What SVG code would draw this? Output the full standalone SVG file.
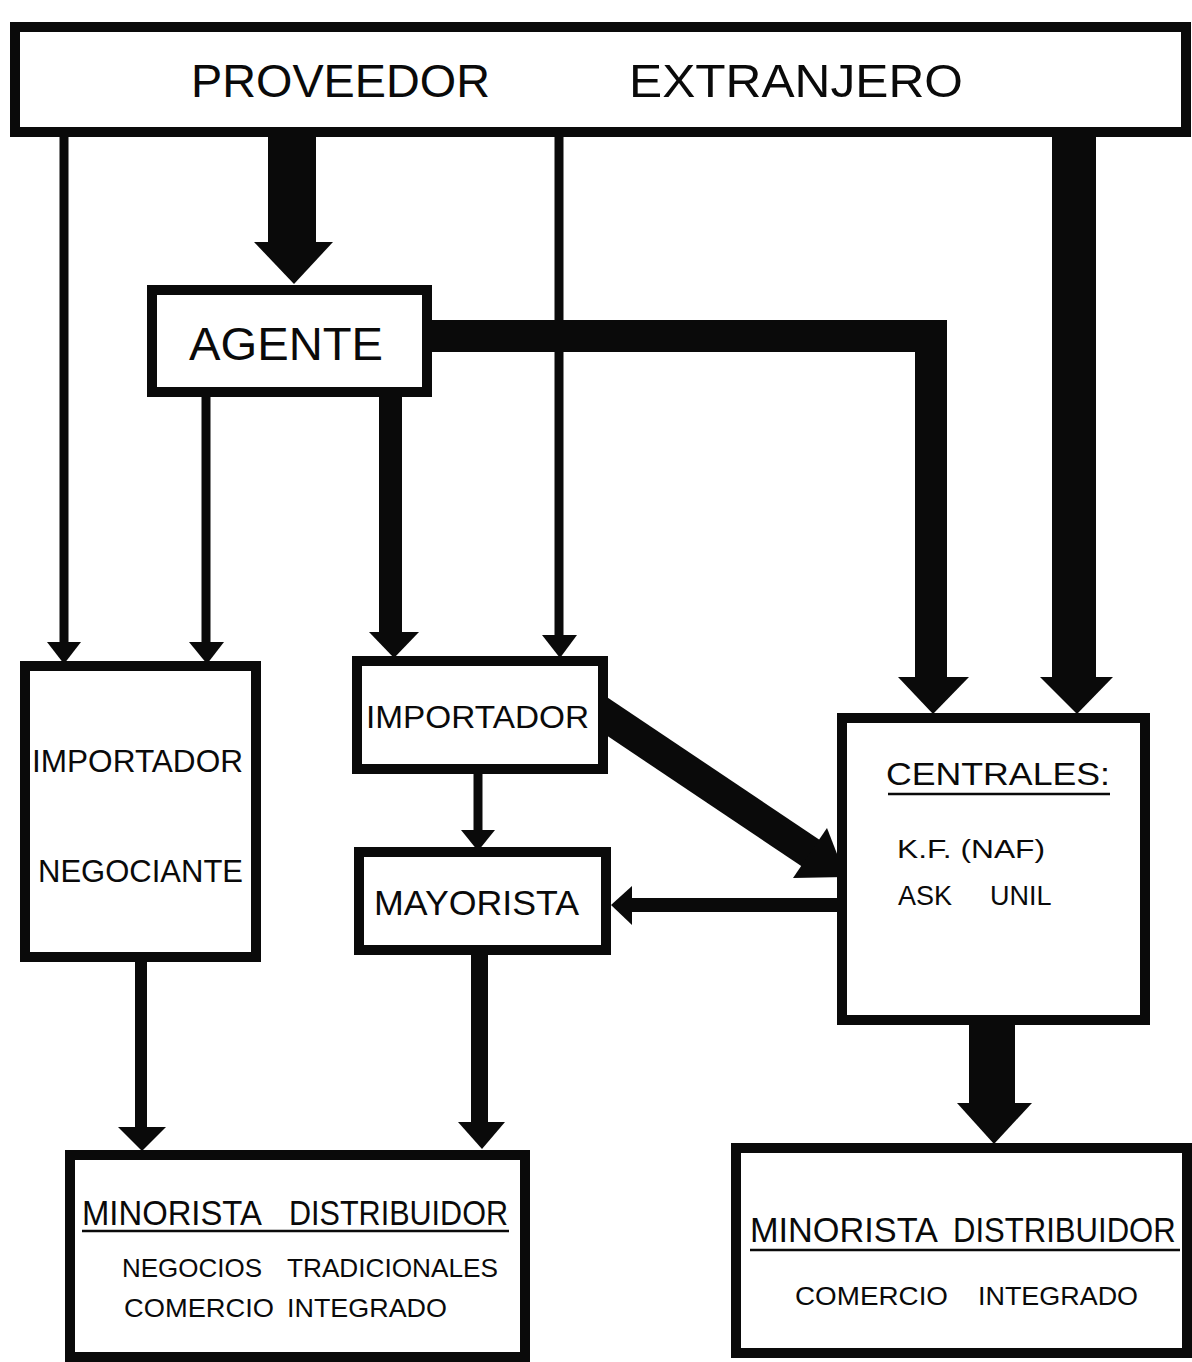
<svg xmlns="http://www.w3.org/2000/svg" width="1192" height="1362" viewBox="0 0 1192 1362">
  <style>
    .box { fill: #fff; stroke: #0a0a0a; stroke-width: 10; }
    .ink { fill: #0a0a0a; }
    .thin { stroke: #0a0a0a; stroke-width: 9; fill: none; }
    .lbl { font-family: "Liberation Sans", Arial, sans-serif; fill: #0a0a0a; }
    .ul { stroke: #0a0a0a; stroke-width: 2.5; }
  </style>
  <rect width="1192" height="1362" fill="#fff"/>

  <!-- flows between the trade channels -->
  <g id="connectors">
    <!-- proveedor -> agente (heavy) -->
    <rect class="ink" x="268" y="132" width="48" height="112"/>
    <polygon class="ink" points="254,242 333,242 294,284"/>
    <!-- proveedor -> importador negociante -->
    <line class="thin" x1="64" y1="132" x2="64" y2="645"/>
    <polygon class="ink" points="47,642 81,642 64,664"/>
    <!-- agente -> importador negociante -->
    <line class="thin" x1="206" y1="392" x2="206" y2="645"/>
    <polygon class="ink" points="189,642 224,642 207,664"/>
    <!-- agente -> importador -->
    <rect class="ink" x="379" y="392" width="23" height="243"/>
    <polygon class="ink" points="369,632 419,632 394,658"/>
    <!-- proveedor -> importador -->
    <line class="thin" x1="559" y1="132" x2="559" y2="638"/>
    <polygon class="ink" points="542,635 577,635 560,658"/>
    <!-- agente -> centrales (elbow) -->
    <polygon class="ink" points="427,320 947,320 947,680 915,680 915,352 427,352"/>
    <polygon class="ink" points="898,677 969,677 933,714"/>
    <!-- proveedor -> centrales (heavy) -->
    <rect class="ink" x="1052" y="132" width="44" height="548"/>
    <polygon class="ink" points="1040,677 1113,677 1077,714"/>
    <!-- importador -> centrales (diagonal) -->
    <line x1="590" y1="705" x2="812" y2="854" stroke="#0a0a0a" stroke-width="32"/>
    <polygon class="ink" points="793,878 827,828 846,877"/>
    <!-- importador -> mayorista -->
    <line class="thin" x1="478" y1="769" x2="478" y2="833"/>
    <polygon class="ink" points="461,830 495,830 478,851"/>
    <!-- centrales -> mayorista -->
    <rect class="ink" x="628" y="898" width="214" height="14"/>
    <polygon class="ink" points="611,905 632,886 632,925"/>
    <!-- importador negociante -> minorista -->
    <rect class="ink" x="135" y="957" width="12" height="173"/>
    <polygon class="ink" points="118,1127 166,1127 142,1151"/>
    <!-- mayorista -> minorista -->
    <rect class="ink" x="471" y="950" width="17" height="175"/>
    <polygon class="ink" points="458,1122 505,1122 482,1149"/>
    <!-- centrales -> minorista (heavy) -->
    <rect class="ink" x="969" y="1020" width="46" height="86"/>
    <polygon class="ink" points="957,1103 1032,1103 994,1144"/>
  </g>

  <g id="proveedor">
    <rect class="box" x="15" y="27" width="1171" height="105"/>
    <text class="lbl" y="97" font-size="47"><tspan x="191" textLength="299" lengthAdjust="spacingAndGlyphs">PROVEEDOR</tspan> <tspan x="629" textLength="334" lengthAdjust="spacingAndGlyphs">EXTRANJERO</tspan></text>
  </g>

  <g id="agente">
    <rect class="box" x="152" y="290" width="275" height="102"/>
    <text class="lbl" x="189" y="360" font-size="46" textLength="194" lengthAdjust="spacingAndGlyphs">AGENTE</text>
  </g>

  <g id="importador-negociante">
    <rect class="box" x="25" y="666" width="231" height="291"/>
    <text class="lbl" x="32" y="772" font-size="32" textLength="211" lengthAdjust="spacingAndGlyphs">IMPORTADOR</text>
    <text class="lbl" x="38" y="882" font-size="32" textLength="205" lengthAdjust="spacingAndGlyphs">NEGOCIANTE</text>
  </g>

  <g id="importador">
    <rect class="box" x="357" y="661" width="246" height="108"/>
    <text class="lbl" x="366" y="728" font-size="32" textLength="223" lengthAdjust="spacingAndGlyphs">IMPORTADOR</text>
  </g>

  <g id="mayorista">
    <rect class="box" x="359" y="852" width="247" height="98"/>
    <text class="lbl" x="374" y="915" font-size="35" textLength="205" lengthAdjust="spacingAndGlyphs">MAYORISTA</text>
  </g>

  <g id="centrales">
    <rect class="box" x="842" y="718" width="303" height="302"/>
    <text class="lbl" x="886" y="785" font-size="32" textLength="224" lengthAdjust="spacingAndGlyphs">CENTRALES:</text>
    <line class="ul" x1="888" y1="794" x2="1110" y2="794"/>
    <text class="lbl" x="897" y="858" font-size="25" textLength="148" lengthAdjust="spacingAndGlyphs">K.F. (NAF)</text>
    <text class="lbl" x="898" y="905" font-size="27">ASK <tspan x="990">UNIL</tspan></text>
  </g>

  <g id="minorista-tradicional">
    <rect class="box" x="70" y="1155" width="455" height="202"/>
    <text class="lbl" y="1225" font-size="35"><tspan x="82" textLength="178" lengthAdjust="spacingAndGlyphs">MINORISTA</tspan> <tspan x="289" textLength="219" lengthAdjust="spacingAndGlyphs">DISTRIBUIDOR</tspan></text>
    <line class="ul" x1="82" y1="1231" x2="509" y2="1231"/>
    <text class="lbl" y="1277" font-size="26"><tspan x="122" textLength="140" lengthAdjust="spacingAndGlyphs">NEGOCIOS</tspan> <tspan x="287" textLength="211" lengthAdjust="spacingAndGlyphs">TRADICIONALES</tspan></text>
    <text class="lbl" y="1317" font-size="26"><tspan x="124" textLength="150" lengthAdjust="spacingAndGlyphs">COMERCIO</tspan> <tspan x="287" textLength="160" lengthAdjust="spacingAndGlyphs">INTEGRADO</tspan></text>
  </g>

  <g id="minorista-integrado">
    <rect class="box" x="736" y="1148" width="451" height="205"/>
    <!-- title set in a horizontally condensed frame -->
    <text class="lbl" transform="translate(750 1242) scale(0.86 1)" font-size="35"><tspan x="0" textLength="218.6" lengthAdjust="spacingAndGlyphs">MINORISTA</tspan> <tspan x="236" textLength="259" lengthAdjust="spacingAndGlyphs">DISTRIBUIDOR</tspan></text>
    <line class="ul" x1="750" y1="1250" x2="1180" y2="1250"/>
    <text class="lbl" y="1305" font-size="25"><tspan x="795" textLength="153" lengthAdjust="spacingAndGlyphs">COMERCIO</tspan> <tspan x="978" textLength="160" lengthAdjust="spacingAndGlyphs">INTEGRADO</tspan></text>
  </g>
</svg>
